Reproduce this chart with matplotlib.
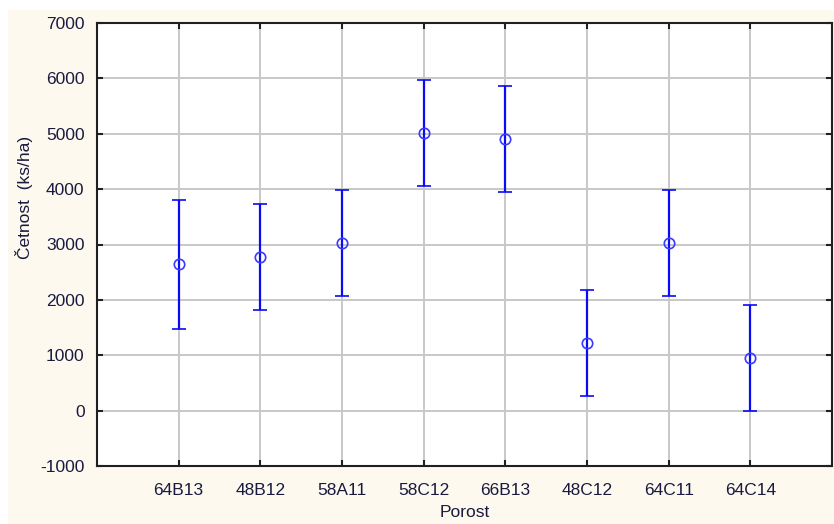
import numpy as np
import matplotlib.pyplot as plt
from matplotlib.patches import Rectangle

# Průměrná četnost podle porostu a polovina intervalu spolehlivosti
porost = ['64B13', '48B12', '58A11', '58C12', '66B13', '48C12', '64C11', '64C14']
cetnost = [2640, 2771, 3023, 5020, 4910, 1225, 3023, 944]
chyba = [1172, 955, 955, 955, 955, 958, 955, 957]

plt.rcParams['font.family'] = ['Liberation Sans', 'DejaVu Sans']
plt.rcParams['axes.unicode_minus'] = False

fig = plt.figure(figsize=(8.34, 5.24), dpi=100, facecolor='#fdf9ee')
# bílé okraje nahoře a vlevo
fig.patches.append(Rectangle((0, 1 - 10 / 524), 1, 10 / 524, transform=fig.transFigure,
                             facecolor='white', edgecolor='none'))
fig.patches.append(Rectangle((0, 0), 8 / 834, 1, transform=fig.transFigure,
                             facecolor='white', edgecolor='none'))

ax = fig.add_axes([97 / 834, 1 - 466 / 524, (832 - 97) / 834, (466 - 23) / 524])
ax.set_facecolor('white')

x = np.arange(1, len(porost) + 1)
ax.errorbar(x, cetnost, yerr=chyba, fmt='o', color='#0a0af5', ecolor='#0a0af5',
            elinewidth=1.6, capsize=5, capthick=1.6, markersize=7.5,
            markerfacecolor='none', markeredgecolor='#3a3aff', markeredgewidth=1.2,
            zorder=3)

ax.set_xlim(0, 9)
ax.set_ylim(-1000, 7000)
ax.set_xticks(x)
ax.set_xticklabels(porost)
ax.set_yticks(np.arange(-1000, 7001, 1000))

ax.grid(True, color='#c8c8c8', linewidth=1.4, zorder=0)
ax.set_axisbelow(True)
for s in ax.spines.values():
    s.set_linewidth(1.5)
    s.set_color('#202020')
ax.tick_params(direction='in', length=4, width=1.5, top=True, right=True,
               labelsize=12.5, colors='#202020', labelcolor='#1a1a40', pad=12)
ax.tick_params(axis='y', pad=9)

ax.set_xlabel('Porost', fontsize=12.5, color='#1a1a40', labelpad=5)
ax.set_ylabel('Četnost  (ks/ha)', fontsize=12.5, color='#1a1a40')
ax.yaxis.set_label_coords(-0.087, 0.607)

fig.savefig('out.png', dpi=100, facecolor=fig.get_facecolor())
